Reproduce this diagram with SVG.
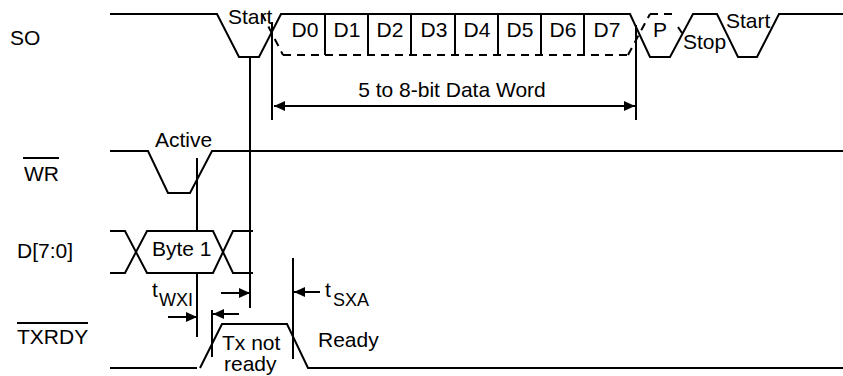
<svg xmlns="http://www.w3.org/2000/svg" width="843" height="376" viewBox="0 0 843 376">
<defs>
<style>
.w{fill:none;stroke:#000;stroke-width:2;stroke-linejoin:miter}
.d{fill:none;stroke:#000;stroke-width:2;stroke-dasharray:8 6}
.t{font-family:"Liberation Sans",Arial,sans-serif;font-size:21px;fill:#000}
.s{font-family:"Liberation Sans",Arial,sans-serif;font-size:18px;fill:#000}
.c{text-anchor:middle}
</style>
<marker id="ah" markerUnits="userSpaceOnUse" markerWidth="11" markerHeight="10" refX="11" refY="5" orient="auto-start-reverse">
<path d="M0,0 L11,5 L0,10 z" fill="#000"/>
</marker>
</defs>
<rect width="843" height="376" fill="#fff"/>

<g id="SO">
<text class="t" x="10" y="45">SO</text>
<polyline class="w" points="110,14 217,14 239,57 259,57 281,14 630,14 650,57 670,57 693,14 717,14 738,57 757,57 779,14 843,14"/>
<line class="d" x1="262" y1="14" x2="283" y2="55" stroke-dasharray="6 5"/>
<line class="d" x1="283" y1="55" x2="628" y2="55"/>
<line class="d" x1="628" y1="55" x2="650" y2="14" stroke-dasharray="6 5"/>
<line class="d" x1="650" y1="14" x2="672" y2="14" stroke-dasharray="5 12"/>
<line class="w" x1="678" y1="27" x2="682" y2="33"/>
<g class="w">
<line x1="325" y1="14" x2="325" y2="55"/>
<line x1="368" y1="14" x2="368" y2="55"/>
<line x1="411" y1="14" x2="411" y2="55"/>
<line x1="455" y1="14" x2="455" y2="55"/>
<line x1="498" y1="14" x2="498" y2="55"/>
<line x1="541" y1="14" x2="541" y2="55"/>
<line x1="584" y1="14" x2="584" y2="55"/>
</g>
<text class="t" x="228" y="24">Start</text>
<text class="t c" x="305" y="37">D0</text>
<text class="t c" x="347" y="37">D1</text>
<text class="t c" x="390" y="37">D2</text>
<text class="t c" x="434" y="37">D3</text>
<text class="t c" x="477" y="37">D4</text>
<text class="t c" x="520" y="37">D5</text>
<text class="t c" x="563" y="37">D6</text>
<text class="t c" x="607" y="37">D7</text>
<text class="t c" x="660" y="37">P</text>
<text class="t" x="683" y="49">Stop</text>
<text class="t" x="726" y="28">Start</text>
</g>

<g id="WR">
<text class="t" x="24" y="181">WR</text>
<line class="w" x1="23" y1="158" x2="59" y2="158"/>
<polyline class="w" points="110,151 148,151 168,193 190,193 212,151 843,151"/>
<text class="t" x="155" y="147">Active</text>
</g>

<g id="D">
<text class="t" x="17" y="258">D[7:0]</text>
<polyline class="w" points="110,231 125,231 147,273 213,273 233,231 253,231"/>
<polyline class="w" points="110,273 125,273 147,231 213,231 233,273 253,273"/>
<text class="t" x="152" y="256">Byte 1</text>
</g>

<g id="TXRDY">
<text class="t" x="17" y="344">TXRDY</text>
<line class="w" x1="17" y1="323" x2="88" y2="323"/>
<line class="w" x1="110" y1="368" x2="197" y2="368"/>
<polyline class="w" points="200,368 222,324 287,324 308,368 843,368"/>
<text class="t" x="222" y="350">Tx not</text>
<text class="t" x="224" y="371">ready</text>
<text class="t" x="318" y="347">Ready</text>
</g>

<g id="connectors">
<line class="w" x1="197" y1="158" x2="197" y2="231"/>
<line class="w" x1="197" y1="273" x2="197" y2="337"/>
<line class="w" x1="250" y1="57" x2="250" y2="308"/>
<line class="w" x1="272" y1="22" x2="272" y2="120"/>
<line class="w" x1="636" y1="25" x2="636" y2="120"/>
<line class="w" x1="212" y1="310" x2="212" y2="357"/>
<line class="w" x1="293" y1="258" x2="293" y2="359"/>
<line class="w" x1="274" y1="106" x2="635" y2="106" marker-start="url(#ah)" marker-end="url(#ah)"/>
<line class="w" x1="168" y1="317" x2="197" y2="317" marker-end="url(#ah)"/>
<line class="w" x1="221" y1="293" x2="250" y2="293" marker-end="url(#ah)"/>
<line class="w" x1="239" y1="314" x2="213" y2="314" marker-end="url(#ah)"/>
<line class="w" x1="320" y1="292" x2="294" y2="292" marker-end="url(#ah)"/>
<text class="t c" x="452" y="97">5 to 8-bit Data Word</text>
<text class="t" x="152" y="297">t</text>
<text class="s" x="159" y="306">WXI</text>
<text class="t" x="325" y="297">t</text>
<text class="s" x="333" y="306">SXA</text>
</g>
</svg>
